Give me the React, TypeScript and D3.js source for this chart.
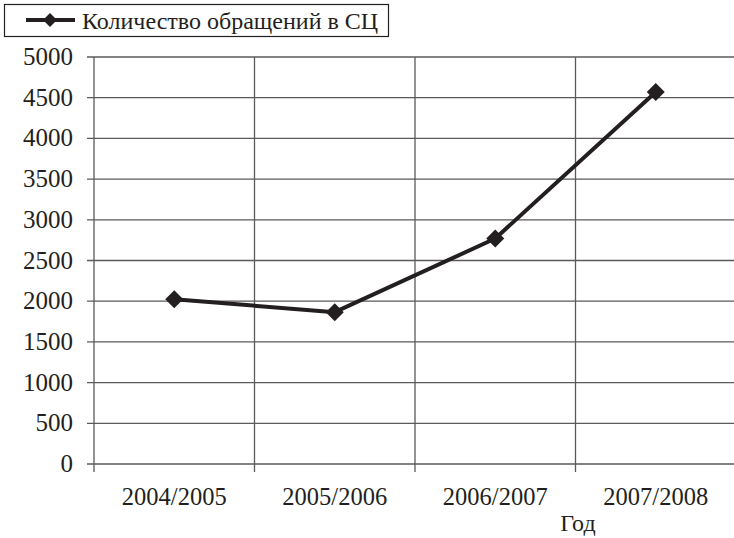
import React from "react";
import * as d3 from "d3";

const categories = ["2004/2005", "2005/2006", "2006/2007", "2007/2008"];
const values = [2025, 1865, 2770, 4570];
const yTicks = [0, 500, 1000, 1500, 2000, 2500, 3000, 3500, 4000, 4500, 5000];
const seriesName = "Количество обращений в СЦ";
const xTitle = "Год";

export default function App() {
  const W = 734, H = 538;
  const left = 94, right = 736, top = 57, bottom = 464;
  const x = d3.scaleBand<string>().domain(categories).range([left, right]).padding(0);
  const y = d3.scaleLinear().domain([0, 5000]).range([bottom, top]);
  const cx = (c: string) => (x(c) as number) + x.bandwidth() / 2;
  const line = d3.line<number>().x((_, i) => cx(categories[i])).y((v) => y(v));
  const font = "'Liberation Serif', 'Times New Roman', serif";
  const ink = "#231f20";
  const grid = "#5a5a5a";
  const diamond = (px: number, py: number, r: number) =>
    `M${px},${py - r}L${px + r},${py}L${px},${py + r}L${px - r},${py}Z`;
  return (
    <svg width={W} height={H} style={{ position: "absolute", left: 0, top: 0 }} fontFamily={font}>
      <rect x={0} y={0} width={W} height={H} fill="#fff" />
      {/* legend */}
      <rect x={4.5} y={4.5} width={384} height={32} fill="none" stroke={ink} strokeWidth={1.2} />
      <line x1={26} x2={75} y1={20} y2={20} stroke={ink} strokeWidth={4} />
      <path d={diamond(50, 20, 7)} fill={ink} />
      <text x={82} y={29} fontSize={24} fill={ink}>{seriesName}</text>
      {/* horizontal grid */}
      {yTicks.map((t) => (
        <g key={t}>
          <line x1={87} x2={right} y1={y(t)} y2={y(t)} stroke={grid} strokeWidth={1.3} />
          <text x={73} y={y(t) + 8} textAnchor="end" fontSize={25} fill={ink}>{t}</text>
        </g>
      ))}
      {/* vertical grid */}
      {categories.map((c) => (
        <line key={c} x1={x(c) as number} x2={x(c) as number} y1={top} y2={bottom + 8} stroke={grid} strokeWidth={1.3} />
      ))}
      {categories.map((c) => (
        <text key={c} x={cx(c)} y={505} textAnchor="middle" fontSize={24.5} fill={ink}>{c}</text>
      ))}
      <text x={578} y={531} textAnchor="middle" fontSize={24} fill={ink}>{xTitle}</text>
      <path d={line(values) as string} fill="none" stroke={ink} strokeWidth={4} strokeLinejoin="round" />
      {values.map((v, i) => (
        <path key={i} d={diamond(cx(categories[i]), y(v), 9)} fill={ink} />
      ))}
    </svg>
  );
}
